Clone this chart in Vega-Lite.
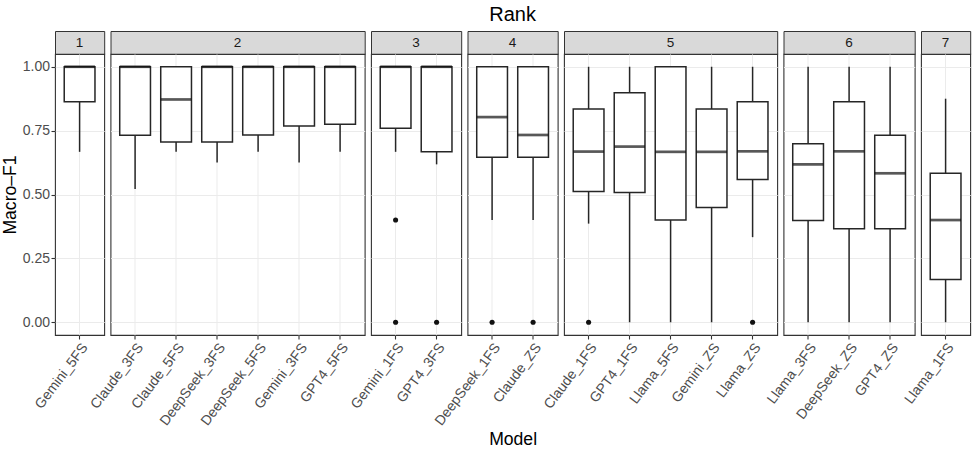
{
  "$schema": "https://vega.github.io/schema/vega-lite/v6.json",
  "padding": {"left": 0, "top": 4, "right": 3, "bottom": 3},
  "datasets": {
    "boxes": [
      {"Rank": "1", "Model": "Gemini_5FS", "lower": 0.667, "q1": 0.863, "median": 1, "q3": 1, "upper": 1},
      {"Rank": "2", "Model": "Claude_3FS", "lower": 0.522, "q1": 0.732, "median": 1, "q3": 1, "upper": 1},
      {"Rank": "2", "Model": "Claude_5FS", "lower": 0.667, "q1": 0.706, "median": 0.872, "q3": 1, "upper": 1},
      {"Rank": "2", "Model": "DeepSeek_3FS", "lower": 0.625, "q1": 0.706, "median": 1, "q3": 1, "upper": 1},
      {"Rank": "2", "Model": "DeepSeek_5FS", "lower": 0.667, "q1": 0.733, "median": 1, "q3": 1, "upper": 1},
      {"Rank": "2", "Model": "Gemini_3FS", "lower": 0.625, "q1": 0.768, "median": 1, "q3": 1, "upper": 1},
      {"Rank": "2", "Model": "GPT4_5FS", "lower": 0.667, "q1": 0.775, "median": 1, "q3": 1, "upper": 1},
      {"Rank": "3", "Model": "Gemini_1FS", "lower": 0.667, "q1": 0.759, "median": 1, "q3": 1, "upper": 1},
      {"Rank": "3", "Model": "GPT4_3FS", "lower": 0.618, "q1": 0.667, "median": 1, "q3": 1, "upper": 1},
      {"Rank": "4", "Model": "DeepSeek_1FS", "lower": 0.4, "q1": 0.646, "median": 0.803, "q3": 1, "upper": 1},
      {"Rank": "4", "Model": "Claude_ZS", "lower": 0.4, "q1": 0.646, "median": 0.733, "q3": 1, "upper": 1},
      {"Rank": "5", "Model": "Claude_1FS", "lower": 0.386, "q1": 0.512, "median": 0.668, "q3": 0.835, "upper": 1},
      {"Rank": "5", "Model": "GPT4_1FS", "lower": 0, "q1": 0.508, "median": 0.6875, "q3": 0.898, "upper": 1},
      {"Rank": "5", "Model": "Llama_5FS", "lower": 0, "q1": 0.4, "median": 0.667, "q3": 1, "upper": 1},
      {"Rank": "5", "Model": "Gemini_ZS", "lower": 0, "q1": 0.449, "median": 0.667, "q3": 0.835, "upper": 1},
      {"Rank": "5", "Model": "Llama_ZS", "lower": 0.333, "q1": 0.559, "median": 0.669, "q3": 0.863, "upper": 1},
      {"Rank": "6", "Model": "Llama_3FS", "lower": 0, "q1": 0.398, "median": 0.618, "q3": 0.699, "upper": 1},
      {"Rank": "6", "Model": "DeepSeek_ZS", "lower": 0, "q1": 0.366, "median": 0.669, "q3": 0.863, "upper": 1},
      {"Rank": "6", "Model": "GPT4_ZS", "lower": 0, "q1": 0.366, "median": 0.583, "q3": 0.732, "upper": 1},
      {"Rank": "7", "Model": "Llama_1FS", "lower": 0, "q1": 0.167, "median": 0.4, "q3": 0.583, "upper": 0.875}
    ],
    "outliers": [
      {"Rank": "3", "Model": "Gemini_1FS", "value": 0.4},
      {"Rank": "3", "Model": "Gemini_1FS", "value": 0},
      {"Rank": "3", "Model": "GPT4_3FS", "value": 0},
      {"Rank": "4", "Model": "DeepSeek_1FS", "value": 0},
      {"Rank": "4", "Model": "Claude_ZS", "value": 0},
      {"Rank": "5", "Model": "Claude_1FS", "value": 0},
      {"Rank": "5", "Model": "Llama_ZS", "value": 0}
    ]
  },
  "columns": 7,
  "spacing": {"row": 0, "column": 5.5},
  "bounds": "flush",
  "concat": [
    {"width": 49.2, "height": 23, "view": {"fill": "#D9D9D9", "stroke": "#333333"}, "data": {"values": [{"Rank": "1"}]}, "mark": {"type": "text", "fontSize": 13.5, "color": "#1A1A1A"}, "encoding": {"text": {"field": "Rank"}}},
    {"width": 254.2, "height": 23, "view": {"fill": "#D9D9D9", "stroke": "#333333"}, "data": {"values": [{"Rank": "2"}]}, "mark": {"type": "text", "fontSize": 13.5, "color": "#1A1A1A"}, "encoding": {"text": {"field": "Rank"}}},
    {"width": 90.2, "height": 23, "view": {"fill": "#D9D9D9", "stroke": "#333333"}, "data": {"values": [{"Rank": "3"}]}, "mark": {"type": "text", "fontSize": 13.5, "color": "#1A1A1A"}, "encoding": {"text": {"field": "Rank"}}},
    {"width": 90.2, "height": 23, "view": {"fill": "#D9D9D9", "stroke": "#333333"}, "title": {"text": "Rank", "fontSize": 20, "fontWeight": "normal", "color": "black", "anchor": "middle", "offset": 6}, "data": {"values": [{"Rank": "4"}]}, "mark": {"type": "text", "fontSize": 13.5, "color": "#1A1A1A"}, "encoding": {"text": {"field": "Rank"}}},
    {"width": 213.2, "height": 23, "view": {"fill": "#D9D9D9", "stroke": "#333333"}, "data": {"values": [{"Rank": "5"}]}, "mark": {"type": "text", "fontSize": 13.5, "color": "#1A1A1A"}, "encoding": {"text": {"field": "Rank"}}},
    {"width": 131.2, "height": 23, "view": {"fill": "#D9D9D9", "stroke": "#333333"}, "data": {"values": [{"Rank": "6"}]}, "mark": {"type": "text", "fontSize": 13.5, "color": "#1A1A1A"}, "encoding": {"text": {"field": "Rank"}}},
    {"width": 49.2, "height": 23, "view": {"fill": "#D9D9D9", "stroke": "#333333"}, "data": {"values": [{"Rank": "7"}]}, "mark": {"type": "text", "fontSize": 13.5, "color": "#1A1A1A"}, "encoding": {"text": {"field": "Rank"}}},

    {"width": 49.2, "height": 281, "data": {"name": "boxes"}, "transform": [{"filter": "datum.Rank == '1'"}],
     "encoding": {"x": {"field": "Model", "type": "nominal", "scale": {"domain": ["Gemini_5FS"], "paddingInner": 0.25, "paddingOuter": 0.225},
       "axis": {"title": null, "labelAngle": -53, "labelAlign": "right", "labelBaseline": "top", "grid": true, "bandPosition": 0.5}}},
     "layer": [
       {"mark": {"type": "rule", "color": "#262626", "strokeWidth": 1.5},
        "encoding": {"y": {"field": "lower", "type": "quantitative", "title": "Macro–F1", "scale": {"domain": [-0.05, 1.05], "nice": false, "zero": false},
          "axis": {"values": [0, 0.125, 0.25, 0.375, 0.5, 0.625, 0.75, 0.875, 1], "labelExpr": "(datum.value*4) % 1 == 0 ? format(datum.value, '.2f') : ''",
            "tickOpacity": {"condition": {"test": "(datum.value*4) % 1 != 0", "value": 0}, "value": 1},
            "gridWidth": {"condition": {"test": "(datum.value*4) % 1 != 0", "value": 0.6}, "value": 1.1}, "titlePadding": 3, "labelPadding": 1.5}},
          "y2": {"field": "upper"}}},
       {"mark": {"type": "bar", "fill": "white", "stroke": "#262626", "strokeWidth": 1.5}, "encoding": {"y": {"field": "q1", "type": "quantitative", "title": "Macro–F1"}, "y2": {"field": "q3"}}},
       {"mark": {"type": "tick", "color": "#111111", "thickness": 2.7, "size": 30.75}, "encoding": {"y": {"field": "median", "type": "quantitative", "title": "Macro–F1"}}}
     ]},

    {"width": 254.2, "height": 281, "data": {"name": "boxes"}, "transform": [{"filter": "datum.Rank == '2'"}],
     "encoding": {"x": {"field": "Model", "type": "nominal", "scale": {"domain": ["Claude_3FS", "Claude_5FS", "DeepSeek_3FS", "DeepSeek_5FS", "Gemini_3FS", "GPT4_5FS"], "paddingInner": 0.25, "paddingOuter": 0.225},
       "axis": {"title": null, "labelAngle": -53, "labelAlign": "right", "labelBaseline": "top", "grid": true, "bandPosition": 0.5}}},
     "layer": [
       {"mark": {"type": "rule", "color": "#262626", "strokeWidth": 1.5},
        "encoding": {"y": {"field": "lower", "type": "quantitative", "title": null, "scale": {"domain": [-0.05, 1.05], "nice": false, "zero": false},
          "axis": {"values": [0, 0.125, 0.25, 0.375, 0.5, 0.625, 0.75, 0.875, 1], "labels": false, "ticks": false,
            "gridWidth": {"condition": {"test": "(datum.value*4) % 1 != 0", "value": 0.6}, "value": 1.1}}},
          "y2": {"field": "upper"}}},
       {"mark": {"type": "bar", "fill": "white", "stroke": "#262626", "strokeWidth": 1.5}, "encoding": {"y": {"field": "q1", "type": "quantitative", "title": null}, "y2": {"field": "q3"}}},
       {"mark": {"type": "tick", "color": "#111111", "thickness": 2.7, "size": 30.75}, "encoding": {"y": {"field": "median", "type": "quantitative", "title": null}}}
     ]},

    {"width": 90.2, "height": 281, "data": {"name": "boxes"}, "transform": [{"filter": "datum.Rank == '3'"}],
     "encoding": {"x": {"field": "Model", "type": "nominal", "scale": {"domain": ["Gemini_1FS", "GPT4_3FS"], "paddingInner": 0.25, "paddingOuter": 0.225},
       "axis": {"title": null, "labelAngle": -53, "labelAlign": "right", "labelBaseline": "top", "grid": true, "bandPosition": 0.5}}},
     "layer": [
       {"mark": {"type": "rule", "color": "#262626", "strokeWidth": 1.5},
        "encoding": {"y": {"field": "lower", "type": "quantitative", "title": null, "scale": {"domain": [-0.05, 1.05], "nice": false, "zero": false},
          "axis": {"values": [0, 0.125, 0.25, 0.375, 0.5, 0.625, 0.75, 0.875, 1], "labels": false, "ticks": false,
            "gridWidth": {"condition": {"test": "(datum.value*4) % 1 != 0", "value": 0.6}, "value": 1.1}}},
          "y2": {"field": "upper"}}},
       {"mark": {"type": "bar", "fill": "white", "stroke": "#262626", "strokeWidth": 1.5}, "encoding": {"y": {"field": "q1", "type": "quantitative", "title": null}, "y2": {"field": "q3"}}},
       {"mark": {"type": "tick", "color": "#111111", "thickness": 2.7, "size": 30.75}, "encoding": {"y": {"field": "median", "type": "quantitative", "title": null}}},
       {"data": {"name": "outliers"}, "transform": [{"filter": "datum.Rank == '3'"}], "mark": {"type": "point", "filled": true, "color": "#111111", "size": 26, "opacity": 1}, "encoding": {"y": {"field": "value", "type": "quantitative", "title": null}}}
     ]},

    {"width": 90.2, "height": 281, "data": {"name": "boxes"}, "transform": [{"filter": "datum.Rank == '4'"}],
     "encoding": {"x": {"field": "Model", "type": "nominal", "scale": {"domain": ["DeepSeek_1FS", "Claude_ZS"], "paddingInner": 0.25, "paddingOuter": 0.225},
       "axis": {"title": "Model", "titlePadding": 3, "labelAngle": -53, "labelAlign": "right", "labelBaseline": "top", "grid": true, "bandPosition": 0.5}}},
     "layer": [
       {"mark": {"type": "rule", "color": "#262626", "strokeWidth": 1.5},
        "encoding": {"y": {"field": "lower", "type": "quantitative", "title": null, "scale": {"domain": [-0.05, 1.05], "nice": false, "zero": false},
          "axis": {"values": [0, 0.125, 0.25, 0.375, 0.5, 0.625, 0.75, 0.875, 1], "labels": false, "ticks": false,
            "gridWidth": {"condition": {"test": "(datum.value*4) % 1 != 0", "value": 0.6}, "value": 1.1}}},
          "y2": {"field": "upper"}}},
       {"mark": {"type": "bar", "fill": "white", "stroke": "#262626", "strokeWidth": 1.5}, "encoding": {"y": {"field": "q1", "type": "quantitative", "title": null}, "y2": {"field": "q3"}}},
       {"mark": {"type": "tick", "color": "#111111", "thickness": 2.7, "size": 30.75}, "encoding": {"y": {"field": "median", "type": "quantitative", "title": null}}},
       {"data": {"name": "outliers"}, "transform": [{"filter": "datum.Rank == '4'"}], "mark": {"type": "point", "filled": true, "color": "#111111", "size": 26, "opacity": 1}, "encoding": {"y": {"field": "value", "type": "quantitative", "title": null}}}
     ]},

    {"width": 213.2, "height": 281, "data": {"name": "boxes"}, "transform": [{"filter": "datum.Rank == '5'"}],
     "encoding": {"x": {"field": "Model", "type": "nominal", "scale": {"domain": ["Claude_1FS", "GPT4_1FS", "Llama_5FS", "Gemini_ZS", "Llama_ZS"], "paddingInner": 0.25, "paddingOuter": 0.225},
       "axis": {"title": null, "labelAngle": -53, "labelAlign": "right", "labelBaseline": "top", "grid": true, "bandPosition": 0.5}}},
     "layer": [
       {"mark": {"type": "rule", "color": "#262626", "strokeWidth": 1.5},
        "encoding": {"y": {"field": "lower", "type": "quantitative", "title": null, "scale": {"domain": [-0.05, 1.05], "nice": false, "zero": false},
          "axis": {"values": [0, 0.125, 0.25, 0.375, 0.5, 0.625, 0.75, 0.875, 1], "labels": false, "ticks": false,
            "gridWidth": {"condition": {"test": "(datum.value*4) % 1 != 0", "value": 0.6}, "value": 1.1}}},
          "y2": {"field": "upper"}}},
       {"mark": {"type": "bar", "fill": "white", "stroke": "#262626", "strokeWidth": 1.5}, "encoding": {"y": {"field": "q1", "type": "quantitative", "title": null}, "y2": {"field": "q3"}}},
       {"mark": {"type": "tick", "color": "#111111", "thickness": 2.7, "size": 30.75}, "encoding": {"y": {"field": "median", "type": "quantitative", "title": null}}},
       {"data": {"name": "outliers"}, "transform": [{"filter": "datum.Rank == '5'"}], "mark": {"type": "point", "filled": true, "color": "#111111", "size": 26, "opacity": 1}, "encoding": {"y": {"field": "value", "type": "quantitative", "title": null}}}
     ]},

    {"width": 131.2, "height": 281, "data": {"name": "boxes"}, "transform": [{"filter": "datum.Rank == '6'"}],
     "encoding": {"x": {"field": "Model", "type": "nominal", "scale": {"domain": ["Llama_3FS", "DeepSeek_ZS", "GPT4_ZS"], "paddingInner": 0.25, "paddingOuter": 0.225},
       "axis": {"title": null, "labelAngle": -53, "labelAlign": "right", "labelBaseline": "top", "grid": true, "bandPosition": 0.5}}},
     "layer": [
       {"mark": {"type": "rule", "color": "#262626", "strokeWidth": 1.5},
        "encoding": {"y": {"field": "lower", "type": "quantitative", "title": null, "scale": {"domain": [-0.05, 1.05], "nice": false, "zero": false},
          "axis": {"values": [0, 0.125, 0.25, 0.375, 0.5, 0.625, 0.75, 0.875, 1], "labels": false, "ticks": false,
            "gridWidth": {"condition": {"test": "(datum.value*4) % 1 != 0", "value": 0.6}, "value": 1.1}}},
          "y2": {"field": "upper"}}},
       {"mark": {"type": "bar", "fill": "white", "stroke": "#262626", "strokeWidth": 1.5}, "encoding": {"y": {"field": "q1", "type": "quantitative", "title": null}, "y2": {"field": "q3"}}},
       {"mark": {"type": "tick", "color": "#111111", "thickness": 2.7, "size": 30.75}, "encoding": {"y": {"field": "median", "type": "quantitative", "title": null}}}
     ]},

    {"width": 49.2, "height": 281, "data": {"name": "boxes"}, "transform": [{"filter": "datum.Rank == '7'"}],
     "encoding": {"x": {"field": "Model", "type": "nominal", "scale": {"domain": ["Llama_1FS"], "paddingInner": 0.25, "paddingOuter": 0.225},
       "axis": {"title": null, "labelAngle": -53, "labelAlign": "right", "labelBaseline": "top", "grid": true, "bandPosition": 0.5}}},
     "layer": [
       {"mark": {"type": "rule", "color": "#262626", "strokeWidth": 1.5},
        "encoding": {"y": {"field": "lower", "type": "quantitative", "title": null, "scale": {"domain": [-0.05, 1.05], "nice": false, "zero": false},
          "axis": {"values": [0, 0.125, 0.25, 0.375, 0.5, 0.625, 0.75, 0.875, 1], "labels": false, "ticks": false,
            "gridWidth": {"condition": {"test": "(datum.value*4) % 1 != 0", "value": 0.6}, "value": 1.1}}},
          "y2": {"field": "upper"}}},
       {"mark": {"type": "bar", "fill": "white", "stroke": "#262626", "strokeWidth": 1.5}, "encoding": {"y": {"field": "q1", "type": "quantitative", "title": null}, "y2": {"field": "q3"}}},
       {"mark": {"type": "tick", "color": "#111111", "thickness": 2.7, "size": 30.75}, "encoding": {"y": {"field": "median", "type": "quantitative", "title": null}}}
     ]}
  ],
  "config": {
    "font": "Liberation Sans",
    "view": {"stroke": "#333333", "strokeWidth": 1.1},
    "axis": {"domain": false, "gridColor": "#EBEBEB", "tickColor": "#333333", "tickSize": 4, "tickWidth": 1.1, "labelColor": "#4D4D4D", "labelFontSize": 14, "labelPadding": 1.5, "titleFontSize": 17.6, "titleFontWeight": "normal", "titleColor": "black"}
  }
}
